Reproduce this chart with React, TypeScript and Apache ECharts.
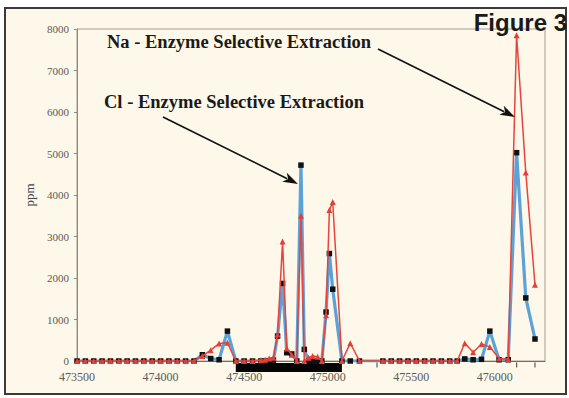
import React, { useEffect, useRef } from "react";
import * as echarts from "echarts";

const distances = [
  473500, 473550, 473600, 473650, 473700, 473750, 473800, 473850, 473900, 473950, 474000, 474050, 474100, 474150, 474200,
  474250, 474300, 474350, 474400, 474450, 474500, 474550, 474600, 474625, 474650, 474675,
  474700, 474730, 474755, 474785, 474815, 474840, 474860, 474885, 474910, 474940, 474965,
  474990, 475010, 475030, 475085, 475135, 475190,
  475330, 475380, 475430, 475480, 475530, 475580, 475630, 475680, 475730, 475775,
  475820, 475870, 475920, 475970, 476025, 476080, 476130, 476185, 476240,
];

const clValues = [
  0, 0, 0, 0, 0, 0, 0, 0, 0, 0, 0, 0, 0, 0, 0,
  150, 60, 30, 720, 0, 0, 0, 0, 0, 10, 20,
  600, 1870, 200, 170, 0, 4720, 280, 0, 0, 0, 0,
  1180, 2590, 1730, 0, 0, 0,
  0, 0, 0, 0, 0, 0, 0, 0, 0, 0,
  50, 30, 40, 720, 30, 30, 5020, 1520, 530,
];

const naValues = [
  0, 0, 0, 0, 0, 0, 0, 0, 0, 0, 0, 0, 0, 0, 0,
  120, 260, 420, 440, 0, 0, 0, 20, 30, 60, 80,
  640, 2880, 300, 150, 0, 3500, 0, 80, 120, 100, 0,
  1100, 3640, 3830, 0, 430, 0,
  0, 0, 0, 0, 0, 0, 0, 0, 0, 0,
  430, 210, 410, 340, 60, 40, 7850, 4540, 1840,
];

const tickMarks = [475295, 476130, 476240];
const zoneRange = [474450, 475085];

const xMin = 473500;
const xMax = 476300;
const xInterval = 500;
const yMin = 0;
const yMax = 8000;
const yInterval = 1000;

function arrow(x1: number, y1: number, x2: number, y2: number) {
  const dx = x2 - x1;
  const dy = y2 - y1;
  const len = Math.sqrt(dx * dx + dy * dy);
  const ux = dx / len;
  const uy = dy / len;
  const hl = 15;
  const hw = 5;
  const bx = x2 - ux * hl;
  const by = y2 - uy * hl;
  return [
    {
      type: "line",
      shape: { x1, y1, x2: bx + ux * 3, y2: by + uy * 3 },
      style: { stroke: "#111", lineWidth: 1.6 },
      z: 20,
    },
    {
      type: "polygon",
      shape: {
        points: [
          [x2, y2],
          [bx - uy * hw, by + ux * hw],
          [bx + ux * 4, by + uy * 4],
          [bx + uy * hw, by - ux * hw],
        ],
      },
      style: { fill: "#111" },
      z: 20,
    },
  ];
}

export default function App() {
  const ref = useRef<HTMLDivElement>(null);
  useEffect(() => {
    if (!ref.current) return;
    const chart = echarts.init(ref.current, null, { renderer: "svg" });
    const clData = distances.map((d, i) => [d, clValues[i]]);
    const naData = distances.map((d, i) => [d, naValues[i]]);
    const serif = "'Liberation Serif', 'DejaVu Serif', serif";
    chart.setOption({
      animation: false,
      backgroundColor: "#ffffff",
      grid: {
        left: 77,
        top: 29,
        right: 24,
        bottom: 37,
        show: true,
        borderColor: "#a09f95",
        borderWidth: 1,
        backgroundColor: "transparent",
        outerBoundsMode: "none",
      },
      xAxis: {
        type: "value",
        min: xMin,
        max: xMax,
        interval: xInterval,
        axisLine: { lineStyle: { color: "#6f6f66", width: 1 } },
        axisTick: { show: false },
        splitLine: { show: false },
        axisLabel: {
          showMaxLabel: false,
          formatter: (v: number) => String(v),
          fontFamily: serif,
          fontSize: 12,
          color: "#5a5a5a",
          margin: 10,
        },
      },
      yAxis: {
        type: "value",
        min: yMin,
        max: yMax,
        interval: yInterval,
        name: "ppm",
        nameLocation: "middle",
        nameGap: 40,
        nameRotate: 90,
        nameTextStyle: { fontFamily: serif, fontSize: 13, color: "#444" },
        axisLine: { show: true, lineStyle: { color: "#8a8a80", width: 1 } },
        axisTick: { show: true, inside: false, length: 3, lineStyle: { color: "#8a8a80" } },
        splitLine: { show: false },
        axisLabel: {
          formatter: (v: number) => String(v),
          fontFamily: serif,
          fontSize: 11,
          color: "#5a5a5a",
          margin: 8,
        },
      },
      graphic: [
        {
          type: "rect",
          shape: { x: 5, y: 8, width: 561, height: 386 },
          style: { fill: "#fdf8e9", stroke: "#3a3a3a", lineWidth: 2 },
          z: -10,
          silent: true,
        },
        {
          type: "text",
          x: 567,
          y: 22,
          style: {
            text: "Figure 3",
            fontFamily: "'Liberation Sans', Arial, sans-serif",
            fontWeight: "bold",
            fontSize: 24,
            fill: "#1a1a1a",
            align: "right",
            verticalAlign: "middle",
          },
          z: 30,
        },
        {
          type: "text",
          x: 107,
          y: 42,
          style: {
            text: "Na - Enzyme Selective Extraction",
            fontFamily: serif,
            fontWeight: "bold",
            fontSize: 18.5,
            fill: "#1a1a1a",
            align: "left",
            verticalAlign: "middle",
          },
          z: 30,
        },
        {
          type: "text",
          x: 104,
          y: 102,
          style: {
            text: "Cl - Enzyme Selective Extraction",
            fontFamily: serif,
            fontWeight: "bold",
            fontSize: 18.5,
            fill: "#1a1a1a",
            align: "left",
            verticalAlign: "middle",
          },
          z: 30,
        },
        ...arrow(378, 49, 515, 117),
        ...arrow(163, 117, 298, 184),
      ],
      series: [
        {
          type: "custom",
          name: "zone",
          clip: false,
          encode: { x: [0, 1], y: 2 },
          data: [[zoneRange[0], zoneRange[1], 0]],
          renderItem: (params: any, api: any) => {
            const s = api.coord([api.value(0), 0]);
            const e = api.coord([api.value(1), 0]);
            return {
              type: "rect",
              shape: { x: s[0], y: s[1] + 2, width: e[0] - s[0], height: 9 },
              style: { fill: "#050505" },
            };
          },
          z: 1,
        },
        {
          type: "scatter",
          name: "ticks",
          clip: false,
          data: tickMarks.map((t) => [t, 0]),
          symbol: "rect",
          symbolSize: [1.2, 5],
          symbolOffset: [0, 4],
          itemStyle: { color: "#333" },
          z: 1,
        },
        {
          type: "line",
          name: "Cl",
          data: clData,
          symbol: "rect",
          symbolSize: 5.5,
          showAllSymbol: true,
          lineStyle: { color: "#5aa2d8", width: 3.2 },
          itemStyle: { color: "#111" },
          z: 3,
        },
        {
          type: "line",
          name: "Na",
          data: naData,
          symbol: "triangle",
          symbolSize: 6,
          showAllSymbol: true,
          lineStyle: { color: "#e8433c", width: 1.5 },
          itemStyle: { color: "#e0403a" },
          z: 4,
        },
      ],
    });
    return () => chart.dispose();
  }, []);
  return (
    <div
      ref={ref}
      style={{ position: "fixed", left: 0, top: 0, width: 569, height: 398 }}
    />
  );
}
